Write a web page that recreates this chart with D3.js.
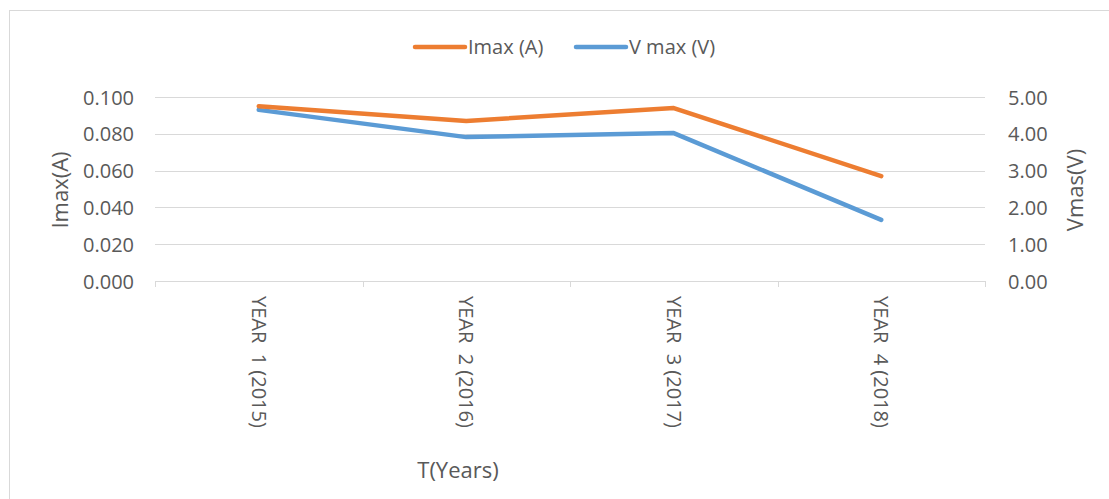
<!DOCTYPE html>
<html>
<head>
<meta charset="utf-8">
<script src="https://cdn.jsdelivr.net/npm/d3@7"></script>
<style>
  html, body { margin: 0; padding: 0; background: #fff; }
  svg text { font-family: "Open Sans", "Noto Sans", sans-serif; fill: #595959; }
</style>
</head>
<body>
<svg id="chart" width="1109" height="499"></svg>
<script>
// Categories and series
const categories = ["YEAR  1 (2015)", "YEAR  2 (2016)", "YEAR  3 (2017)", "YEAR  4 (2018)"];
const imaxValues = [0.095, 0.087, 0.094, 0.057];
const vmaxValues = [4.65, 3.91, 4.02, 1.66];
const leftTicks = [0, 0.02, 0.04, 0.06, 0.08, 0.1];
const rightTicks = [0, 1, 2, 3, 4, 5];

const svg = d3.select("#chart");

// chart frame
svg.append("rect").attr("x", 9.5).attr("y", 10.5).attr("width", 1110).attr("height", 500)
  .attr("fill", "#fff").attr("stroke", "#d9d9d9");

const plot = { left: 155, right: 985, top: 97, bottom: 281 };

const x = d3.scaleBand().domain(categories).range([plot.left, plot.right]);
const yL = d3.scaleLinear().domain([0, 0.1]).range([plot.bottom, plot.top]);
const yR = d3.scaleLinear().domain([0, 5]).range([plot.bottom, plot.top]);

// gridlines
svg.append("g").selectAll("line").data(leftTicks).join("line")
  .attr("x1", plot.left).attr("x2", plot.right)
  .attr("y1", d => Math.round(yL(d)) + 0.5).attr("y2", d => Math.round(yL(d)) + 0.5)
  .attr("stroke", "#d9d9d9").attr("stroke-width", 1);

// category axis with tick marks between bands
const xTicks = categories.map(c => x(c)).concat([plot.right]);
svg.append("g").selectAll("line").data(xTicks).join("line")
  .attr("x1", d => Math.round(d) + 0.5).attr("x2", d => Math.round(d) + 0.5)
  .attr("y1", plot.bottom).attr("y2", plot.bottom + 6)
  .attr("stroke", "#d9d9d9");

const gx = svg.append("g").attr("transform", `translate(0,${plot.bottom})`)
  .call(d3.axisBottom(x).tickSize(0));
gx.select(".domain").remove();
gx.selectAll("text")
  .attr("font-size", 20)
  .attr("text-anchor", "start")
  .attr("dy", null)
  .attr("y", 0)
  .attr("transform", "translate(-7,15) rotate(90)")
  .attr("xml:space", "preserve")
  .style("white-space", "pre");

// left axis
const gl = svg.append("g").attr("transform", `translate(${plot.left - 21},0)`)
  .call(d3.axisLeft(yL).tickValues(leftTicks).tickFormat(d3.format(".3f")).tickSize(0));
gl.select(".domain").remove();
gl.selectAll("text").attr("font-size", 20).attr("x", 0).attr("dy", "0.35em");

// right axis
const gr = svg.append("g").attr("transform", `translate(${plot.right + 23},0)`)
  .call(d3.axisRight(yR).tickValues(rightTicks).tickFormat(d3.format(".2f")).tickSize(0));
gr.select(".domain").remove();
gr.selectAll("text").attr("font-size", 20).attr("x", 0).attr("dy", "0.35em");

// axis titles
svg.append("text").attr("transform", "translate(68,190) rotate(-90)")
  .attr("text-anchor", "middle").attr("font-size", 22).text("Imax(A)");
svg.append("text").attr("transform", "translate(1083,190) rotate(-90)")
  .attr("text-anchor", "middle").attr("font-size", 22).text("Vmas(V)");
svg.append("text").attr("x", 458).attr("y", 478)
  .attr("text-anchor", "middle").attr("font-size", 22).text("T(Years)");

// series lines
const cx = c => x(c) + x.bandwidth() / 2;
const lineL = d3.line().x((d, i) => cx(categories[i])).y(d => yL(d));
const lineR = d3.line().x((d, i) => cx(categories[i])).y(d => yR(d));

svg.append("path").datum(vmaxValues).attr("d", lineR)
  .attr("fill", "none").attr("stroke", "#5B9BD5").attr("stroke-width", 4.5)
  .attr("stroke-linejoin", "round").attr("stroke-linecap", "round");
svg.append("path").datum(imaxValues).attr("d", lineL)
  .attr("fill", "none").attr("stroke", "#ED7D31").attr("stroke-width", 4.5)
  .attr("stroke-linejoin", "round").attr("stroke-linecap", "round");

// legend
const legend = [
  { name: "Imax (A)", color: "#ED7D31", x: 415 },
  { name: "V max (V)", color: "#5B9BD5", x: 576 }
];
const lg = svg.append("g").selectAll("g").data(legend).join("g")
  .attr("transform", d => `translate(${d.x},47)`);
lg.append("line").attr("x1", 0).attr("x2", 50).attr("y1", 0).attr("y2", 0)
  .attr("stroke", d => d.color).attr("stroke-width", 4.5).attr("stroke-linecap", "round");
lg.append("text").attr("x", 53).attr("y", 0).attr("dy", "0.35em")
  .attr("font-size", 20).text(d => d.name);
</script>
</body>
</html>
